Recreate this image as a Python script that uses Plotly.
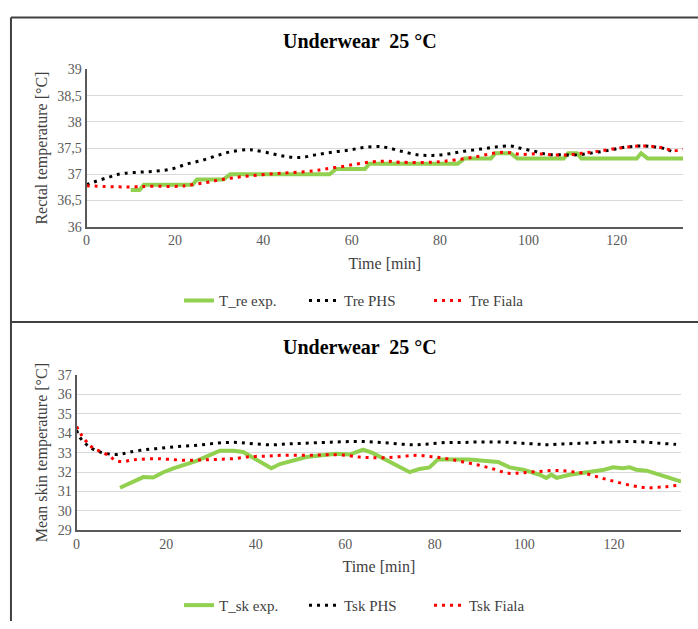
import plotly.graph_objects as go

# ---------------- Data ----------------
# Top panel: rectal temperature
tre_exp_t = [10, 12, 13, 24, 25, 31, 32.5, 55, 56.5, 63, 64, 84, 85.5, 91.5, 92.5, 96, 97.5,
             108, 109, 111, 112, 124.5, 125.5, 127, 135]
tre_exp_v = [36.7, 36.7, 36.8, 36.8, 36.9, 36.9, 37.0, 37.0, 37.1, 37.1, 37.2, 37.2, 37.3, 37.3,
             37.4, 37.4, 37.3, 37.3, 37.4, 37.4, 37.3, 37.3, 37.4, 37.3, 37.3]

tre_phs_t = [0, 1.6, 3.4, 5.3, 6.8, 8.7, 12, 15.7, 19.2, 22.5, 25.9, 29.3, 32.7, 36.4, 38, 41.6,
             45, 48.4, 51.8, 55.5, 59.3, 62.6, 66, 67.9, 71.2, 75, 78.4, 82.1, 85.5, 89.2, 92.6,
             96, 98, 101.2, 104.2, 107.6, 111, 114.7, 118.4, 122.2, 125.9, 128.7, 131.2, 132.7]
tre_phs_v = [36.80, 36.85, 36.90, 36.95, 36.99, 37.02, 37.04, 37.06, 37.10, 37.19, 37.26, 37.35,
             37.43, 37.47, 37.46, 37.40, 37.34, 37.32, 37.37, 37.42, 37.46, 37.51, 37.53, 37.51,
             37.44, 37.37, 37.36, 37.39, 37.44, 37.48, 37.52, 37.54, 37.50, 37.44, 37.38, 37.37,
             37.37, 37.41, 37.46, 37.52, 37.54, 37.52, 37.48, 37.42]

tre_fiala_t = [0, 7, 11, 14, 21, 23, 27, 30, 33, 37, 44, 51, 54, 58, 61.5, 65, 68, 71, 78, 81,
               85, 88.5, 92, 95, 98, 102, 106, 109, 112, 115, 119, 122.5, 126, 130, 133, 135]
tre_fiala_v = [36.78, 36.76, 36.76, 36.77, 36.77, 36.79, 36.84, 36.89, 36.93, 36.97, 37.02,
               37.06, 37.10, 37.15, 37.20, 37.24, 37.25, 37.23, 37.23, 37.25, 37.29, 37.34,
               37.40, 37.42, 37.38, 37.39, 37.37, 37.37, 37.40, 37.43, 37.48, 37.52, 37.54,
               37.51, 37.45, 37.48]

# Bottom panel: mean skin temperature
tsk_exp_t = [9.7, 12.3, 14.9, 17.1, 19.4, 21.6, 24.2, 26.8, 29, 32, 35, 37.2, 39.4, 41.7, 43.5,
             45.4, 48.4, 51.3, 54.3, 58, 61, 64, 66.2, 68.1, 71.4, 74.4, 76.6, 78.8, 80.7, 83.3,
             87.8, 91.5, 94.1, 96.7, 99.7, 103.4, 104.9, 106, 107.2, 110.1, 113.8, 117.5, 119.8,
             122, 123.5, 125, 127.3, 130.2, 133.2, 134.7, 135]
tsk_exp_v = [31.19, 31.49, 31.74, 31.72, 31.99, 32.19, 32.36, 32.57, 32.79, 33.10, 33.10, 33.03,
             32.74, 32.41, 32.19, 32.41, 32.57, 32.77, 32.85, 32.94, 32.90, 33.15, 32.97, 32.74,
             32.32, 31.99, 32.16, 32.24, 32.65, 32.65, 32.65, 32.57, 32.52, 32.24, 32.12, 31.86,
             31.69, 31.86, 31.70, 31.86, 31.99, 32.10, 32.24, 32.20, 32.24, 32.12, 32.07, 31.86,
             31.63, 31.53, 31.57]

tsk_phs_t = [0, 0.7, 1.9, 3.3, 4.8, 6.7, 8.6, 10.3, 11.9, 15.3, 19, 22.7, 26.4, 29.8, 33.1, 36.4,
             39.8, 43.9, 47.2, 50.6, 54.7, 58, 61.4, 64.7, 68.1, 71.8, 75.5, 78.8, 82.6, 85.9,
             89.3, 93, 96.4, 99.7, 103.4, 105.3, 108.6, 112.4, 116.1, 119.8, 123.1, 126.5, 130.2,
             133.6, 135]
tsk_phs_v = [34.15, 33.80, 33.48, 33.23, 33.07, 32.95, 32.90, 32.94, 33.03, 33.15, 33.23, 33.32,
             33.37, 33.45, 33.52, 33.52, 33.45, 33.40, 33.45, 33.48, 33.52, 33.55, 33.57, 33.57,
             33.52, 33.45, 33.40, 33.45, 33.52, 33.52, 33.55, 33.55, 33.53, 33.48, 33.43, 33.40,
             33.45, 33.48, 33.52, 33.55, 33.57, 33.55, 33.48, 33.43, 33.40]

tsk_fiala_t = [0, 1.1, 2.2, 3.7, 5.2, 7.4, 8.6, 10.4, 12.3, 14.1, 17.5, 20.8, 24.6, 27.9, 31.2,
               35, 38.7, 42.4, 45.8, 49.9, 53.6, 56.6, 60.3, 63.2, 65.5, 68.5, 72.2, 75.9, 79.3,
               82.6, 86.3, 89.7, 93, 96.4, 99.7, 103.4, 106.8, 110.1, 113.8, 117.2, 120.5, 124.3,
               127.6, 131.3, 134.7]
tsk_fiala_v = [34.35, 33.90, 33.57, 33.23, 33.07, 32.82, 32.60, 32.54, 32.62, 32.65, 32.69,
               32.65, 32.60, 32.62, 32.65, 32.69, 32.79, 32.82, 32.86, 32.87, 32.87, 32.89,
               32.86, 32.77, 32.74, 32.74, 32.79, 32.86, 32.79, 32.69, 32.52, 32.36, 32.16,
               31.94, 31.96, 32.03, 32.08, 32.03, 31.91, 31.69, 31.49, 31.28, 31.19, 31.24, 31.33]

title_text = "Underwear  25 °C"
top_y_title = "Rectal temperature [°C]"
bot_y_title = "Mean skin temperature [°C]"
x_title = "Time [min]"

# ---------------- Figure ----------------
W, H = 698, 629
FONT = "Liberation Serif, Times New Roman, serif"
GREEN, BLACK, RED = "#92D050", "#000000", "#FF0000"
DOT = "3px,5px"

def px(x):
    return x / W

def py(y):
    return 1 - y / H

fig = go.Figure()

# top panel traces
fig.add_trace(go.Scatter(x=tre_exp_t, y=tre_exp_v, mode="lines", name="T_re exp.",
                         line=dict(color=GREEN, width=4), xaxis="x", yaxis="y", legend="legend"))
fig.add_trace(go.Scatter(x=tre_phs_t, y=tre_phs_v, mode="lines", name="Tre PHS",
                         line=dict(color=BLACK, width=3, dash=DOT, shape="spline"),
                         xaxis="x", yaxis="y", legend="legend"))
fig.add_trace(go.Scatter(x=tre_fiala_t, y=tre_fiala_v, mode="lines", name="Tre Fiala",
                         line=dict(color=RED, width=3, dash=DOT, shape="spline"),
                         xaxis="x", yaxis="y", legend="legend"))

# bottom panel traces
fig.add_trace(go.Scatter(x=tsk_exp_t, y=tsk_exp_v, mode="lines", name="T_sk exp.",
                         line=dict(color=GREEN, width=4), xaxis="x2", yaxis="y2", legend="legend2"))
fig.add_trace(go.Scatter(x=tsk_phs_t, y=tsk_phs_v, mode="lines", name="Tsk PHS",
                         line=dict(color=BLACK, width=3, dash=DOT, shape="spline"),
                         xaxis="x2", yaxis="y2", legend="legend2"))
fig.add_trace(go.Scatter(x=tsk_fiala_t, y=tsk_fiala_v, mode="lines", name="Tsk Fiala",
                         line=dict(color=RED, width=3, dash=DOT, shape="spline"),
                         xaxis="x2", yaxis="y2", legend="legend2"))

axis_common = dict(showline=True, linecolor="#595959", linewidth=2, ticks="",
                   tickfont=dict(family=FONT, size=14, color="#595959"),
                   title_font=dict(family=FONT, size=16, color="#404040"),
                   zeroline=False)

legend_common = dict(orientation="h", x=px(176), xanchor="left", yanchor="middle",
                     font=dict(family=FONT, size=15, color="#404040"),
                     bgcolor="rgba(0,0,0,0)", itemwidth=30, entrywidth=80,
                     entrywidthmode="pixels")

fig.update_layout(
    width=W, height=H, autosize=False,
    margin=dict(l=0, r=0, t=0, b=0),
    paper_bgcolor="white", plot_bgcolor="white",
    separators=", ",
    font=dict(family=FONT, color="#404040"),
    xaxis=dict(domain=[px(83), px(683)], range=[0, 135], dtick=20, tick0=0, showgrid=False,
               anchor="y", title=dict(text=x_title, standoff=10), **axis_common),
    yaxis=dict(domain=[py(225), py(64)], range=[36, 39], dtick=0.5, tick0=36,
               showgrid=True, gridcolor="#D9D9D9", gridwidth=1, anchor="x",
               title=dict(text=top_y_title, standoff=6), **axis_common),
    xaxis2=dict(domain=[px(73), px(681)], range=[0, 135], dtick=20, tick0=0, showgrid=False,
                anchor="y2", title=dict(text=x_title, standoff=10), **axis_common),
    yaxis2=dict(domain=[py(536), py(377)], range=[29, 37], dtick=1, tick0=29,
                showgrid=True, gridcolor="#D9D9D9", gridwidth=1, anchor="x2",
                title=dict(text=bot_y_title, standoff=6), **axis_common),
    legend=dict(y=py(301), **legend_common),
    legend2=dict(y=py(613), **legend_common),
    showlegend=True,
)

# panel titles
for ycen in (35, 348):
    fig.add_annotation(text="<b>" + title_text + "</b>", xref="paper", yref="paper",
                       x=px(358), y=py(ycen), xanchor="center", yanchor="middle",
                       showarrow=False, font=dict(family=FONT, size=20, color="#000000"))

# panel borders
border = dict(color="#404040", width=2)
fig.add_shape(type="line", xref="paper", yref="paper", x0=px(7), x1=1, y0=py(10.7), y1=py(10.7), line=border)
fig.add_shape(type="line", xref="paper", yref="paper", x0=px(7), x1=1, y0=py(322.7), y1=py(322.7), line=border)
fig.add_shape(type="line", xref="paper", yref="paper", x0=px(7), x1=px(7), y0=0, y1=py(10.7), line=border)

fig.write_html(
    "out.html",
    config={"displayModeBar": False},
    post_script="document.body.style.margin='0';document.body.style.padding='0';"
                "document.body.style.overflow='hidden';",
)
